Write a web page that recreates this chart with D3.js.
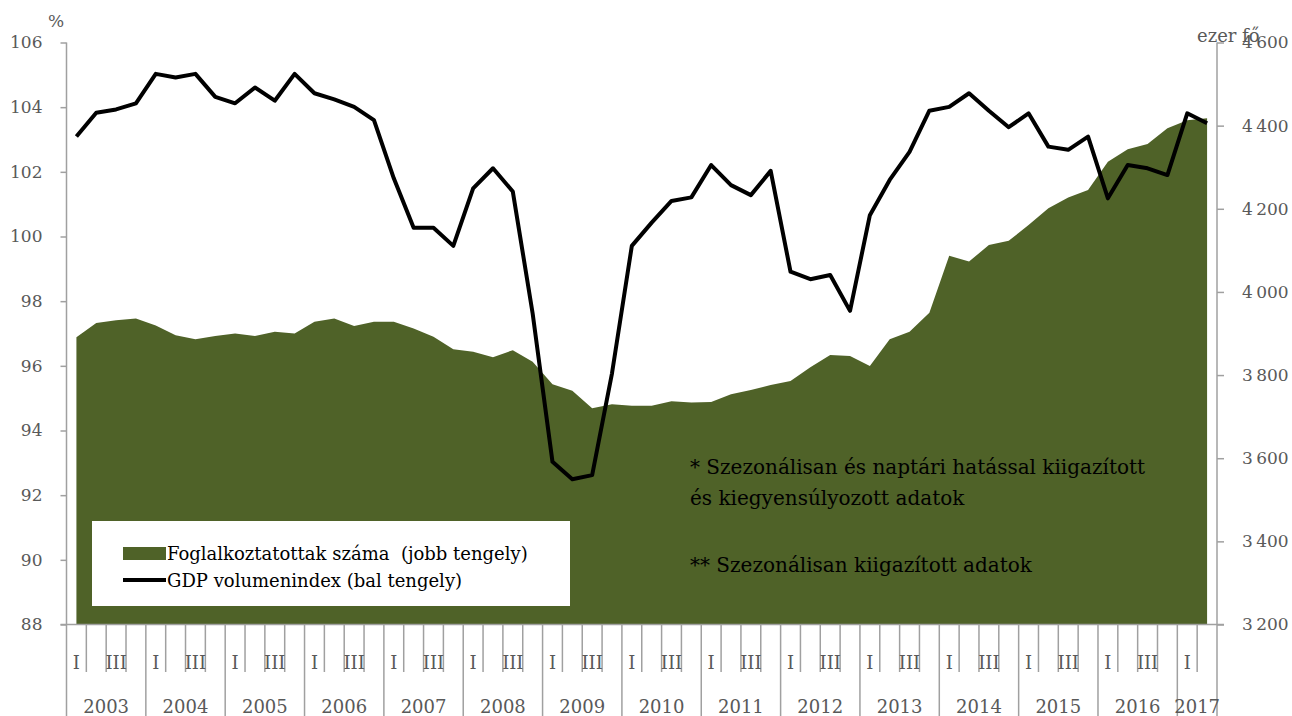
<!DOCTYPE html>
<html>
<head>
<meta charset="utf-8">
<script src="https://cdn.jsdelivr.net/npm/d3@7"></script>
<style>
  body { margin: 0; background: #fff; }
  svg { display: block; font-family: "DejaVu Serif", serif; }
  text { white-space: pre; }
</style>
</head>
<body>
<svg width="1292" height="716"></svg>
<script>
const years = [2003, 2004, 2005, 2006, 2007, 2008, 2009, 2010, 2011, 2012, 2013, 2014, 2015, 2016, 2017];
const quartersPerYear = [4, 4, 4, 4, 4, 4, 4, 4, 4, 4, 4, 4, 4, 4, 2];
const quarterNames = ["I", "II", "III", "IV"];
const shownQuarters = ["I", "III"];

// GDP volumenindex, % (bal tengely)
const gdp = [
  103.09, 103.83, 103.93, 104.12, 105.03, 104.92, 105.03, 104.32,
  104.12, 104.61, 104.2, 105.03, 104.43, 104.24, 104.01, 103.6,
  101.8, 100.27, 100.27, 99.71, 101.49, 102.11, 101.39, 97.62,
  93.03, 92.49, 92.62, 95.77, 99.71, 100.43, 101.1, 101.21,
  102.21, 101.59, 101.28, 102.03, 98.91, 98.68, 98.81, 97.7,
  100.66, 101.75, 102.62, 103.89, 104.01, 104.43, 103.89, 103.38,
  103.81, 102.78, 102.68, 103.09, 101.18, 102.21, 102.11, 101.9,
  103.81, 103.5
];

// Foglalkoztatottak száma, ezer fő (jobb tengely)
const employment = [
  3891, 3925, 3932, 3936, 3919, 3896, 3886, 3894,
  3900, 3894, 3904, 3900, 3928, 3936, 3918, 3928,
  3928, 3912, 3892, 3862, 3856, 3843, 3860, 3832,
  3778, 3762, 3720, 3730, 3726, 3726, 3737, 3734,
  3735, 3754, 3764, 3776, 3786, 3819, 3848, 3846,
  3822, 3886, 3904, 3950, 4087, 4073, 4113, 4123,
  4161, 4201, 4227, 4245, 4313, 4343, 4356, 4394,
  4413, 4418
];

const leftTicks = [88, 90, 92, 94, 96, 98, 100, 102, 104, 106];
const rightTicks = [3200, 3400, 3600, 3800, 4000, 4200, 4400, 4600];

const legendItems = ["Foglalkoztatottak száma  (jobb tengely)", "GDP volumenindex (bal tengely)"];
const notes = [
  "* Szezonálisan és naptári hatással kiigazított",
  "és kiegyensúlyozott adatok",
  "** Szezonálisan kiigazított adatok"
];

const categories = [];
years.forEach((yr, i) => {
  for (let q = 0; q < quartersPerYear[i]; q++) {
    categories.push({ id: yr + "-" + quarterNames[q], year: yr, q: quarterNames[q], first: q === 0 });
  }
});

const svg = d3.select("svg");
const axisColor = "#a0a0a0";
const labelColor = "#595959";
const green = "#4F6228";

const plotLeft = 66.5, plotRight = 1217, plotTop = 42.5, plotBottom = 624.5;

const x = d3.scaleBand().domain(categories.map((d) => d.id)).range([plotLeft, plotRight]);
const y = d3.scaleLinear().domain([88, 106]).range([plotBottom, plotTop]);
const y2 = d3.scaleLinear().domain([3200, 4600]).range([plotBottom, plotTop]);
const cx = (i) => x(categories[i].id) + x.bandwidth() / 2;

const fmt = d3.formatLocale({ decimal: ",", thousands: "\u2009", grouping: [3], currency: ["", ""] }).format(",");

// area (right axis)
svg.append("path")
  .datum(employment)
  .attr("fill", green)
  .attr("d", d3.area()
    .x((d, i) => cx(i))
    .y0(y2(3200))
    .y1((d) => y2(d)));

// axes
const gLeft = svg.append("g")
  .attr("transform", `translate(${plotLeft},0)`)
  .call(d3.axisLeft(y).tickValues(leftTicks).tickSize(6).tickPadding(18).tickSizeOuter(0));

const gRight = svg.append("g")
  .attr("transform", `translate(${plotRight},0)`)
  .call(d3.axisRight(y2).tickValues(rightTicks).tickFormat(fmt).tickSize(7).tickPadding(18).tickSizeOuter(0));

[gLeft, gRight].forEach((g) => {
  g.select(".domain").remove();
  g.selectAll(".tick line").attr("stroke", axisColor).attr("stroke-width", 1.5);
  g.selectAll(".tick text")
    .attr("fill", labelColor)
    .attr("font-size", 17)
    .attr("font-family", "DejaVu Serif, serif");
});

// vertical axis lines
svg.append("g")
  .selectAll("line")
  .data([plotLeft, plotRight])
  .enter()
  .append("line")
  .attr("x1", (d) => d).attr("x2", (d) => d)
  .attr("y1", plotTop).attr("y2", 716)
  .attr("stroke", axisColor)
  .attr("stroke-width", 1.5);

// horizontal axis
svg.append("line")
  .attr("x1", plotLeft - 6).attr("x2", plotRight + 7)
  .attr("y1", plotBottom).attr("y2", plotBottom)
  .attr("stroke", axisColor)
  .attr("stroke-width", 1.5);

// category dividers
svg.append("g")
  .selectAll("line")
  .data(categories.slice(1))
  .enter()
  .append("line")
  .attr("x1", (d) => x(d.id)).attr("x2", (d) => x(d.id))
  .attr("y1", plotBottom)
  .attr("y2", (d) => (d.first ? 716 : 672))
  .attr("stroke", axisColor)
  .attr("stroke-width", 1.5);

svg.append("g")
  .selectAll("text")
  .data(categories.filter((d) => shownQuarters.includes(d.q)))
  .enter()
  .append("text")
  .attr("x", (d) => x(d.id) + x.bandwidth() / 2)
  .attr("y", 669)
  .attr("text-anchor", "middle")
  .attr("font-size", 18)
  .attr("fill", labelColor)
  .text((d) => d.q);

svg.append("g")
  .selectAll("text")
  .data(years)
  .enter()
  .append("text")
  .attr("x", (d) => {
    const cats = categories.filter((c) => c.year === d);
    return (x(cats[0].id) + x(cats[cats.length - 1].id) + x.bandwidth()) / 2;
  })
  .attr("y", 713)
  .attr("text-anchor", "middle")
  .attr("font-size", 18)
  .attr("fill", labelColor)
  .text((d) => d);

// GDP line (left axis)
svg.append("path")
  .datum(gdp)
  .attr("fill", "none")
  .attr("stroke", "#000")
  .attr("stroke-width", 4)
  .attr("stroke-linejoin", "round")
  .attr("d", d3.line()
    .x((d, i) => cx(i))
    .y((d) => y(d)));

// units
svg.append("text")
  .attr("x", 56).attr("y", 27)
  .attr("text-anchor", "middle")
  .attr("font-size", 17)
  .attr("fill", labelColor)
  .text("%");

svg.append("text")
  .attr("x", 1197).attr("y", 42)
  .attr("font-size", 18)
  .attr("fill", labelColor)
  .text("ezer fő");

// legend
const legend = svg.append("g");
legend.append("rect")
  .attr("x", 92).attr("y", 521)
  .attr("width", 478).attr("height", 85)
  .attr("fill", "#fff");

legend.append("rect")
  .attr("x", 123).attr("y", 547)
  .attr("width", 43).attr("height", 13)
  .attr("fill", green);

legend.append("line")
  .attr("x1", 123).attr("x2", 166)
  .attr("y1", 580).attr("y2", 580)
  .attr("stroke", "#000")
  .attr("stroke-width", 4);

legend.selectAll("text")
  .data(legendItems)
  .enter()
  .append("text")
  .attr("x", 167)
  .attr("y", (d, i) => 560 + i * 27)
  .attr("font-size", 18)
  .attr("fill", "#000")
  .text((d) => d);

// notes
svg.append("g")
  .selectAll("text")
  .data(notes)
  .enter()
  .append("text")
  .attr("x", 690)
  .attr("y", (d, i) => [474, 505, 572][i])
  .attr("font-size", 20)
  .attr("fill", "#000")
  .text((d) => d);
</script>
</body>
</html>
